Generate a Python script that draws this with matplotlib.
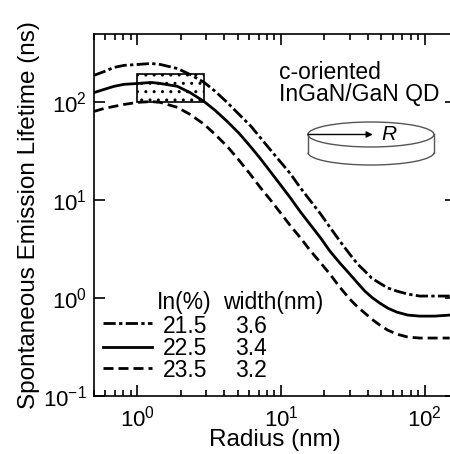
import matplotlib
matplotlib.use("Agg")
import matplotlib.pyplot as plt
from matplotlib.patches import Ellipse, Arc, Rectangle
from matplotlib.lines import Line2D

plt.rcParams['font.family'] = ['Liberation Sans', 'DejaVu Sans']
plt.rcParams['mathtext.fontset'] = 'custom'
plt.rcParams['mathtext.rm'] = 'Liberation Sans'
plt.rcParams['mathtext.it'] = 'Liberation Sans:italic'
plt.rcParams['mathtext.default'] = 'regular'
plt.rcParams['hatch.linewidth'] = 1.0

# ---- data ----
radius_nm = [0.5, 0.59, 0.69, 0.81, 1.0, 1.25, 1.45, 1.9, 2.33, 2.92, 3.48, 4.22, 5.11,
             6.19, 7.15, 8.39, 9.84, 11.55, 13.55, 15.9, 18.7, 21.9, 25.7, 30.1, 34.2,
             38.3, 42.8, 48.7, 55.3, 63.9, 76.2, 92.3, 117, 149]
life_215 = [189, 207, 228, 239, 244, 250, 244, 222, 193, 160, 130, 100, 75.4,
            56.9, 44.0, 33.1, 25.0, 18.9, 13.6, 10.0, 7.37, 5.30, 3.82, 2.81, 2.22,
            1.89, 1.60, 1.42, 1.27, 1.18, 1.10, 1.05, 1.05, 1.05]
life_225 = [126, 136, 146, 153, 156, 160, 156, 146, 126, 102, 82.9, 64.0, 48.3,
            34.8, 26.9, 19.8, 14.6, 10.7, 7.72, 5.69, 4.19, 3.02, 2.28, 1.76, 1.42,
            1.18, 1.02, 0.889, 0.791, 0.720, 0.671, 0.655, 0.655, 0.671]
life_235 = [80.9, 86.9, 91.0, 95.4, 100, 102, 100, 89.0, 75.4, 59.7, 47.1, 35.6, 25.6,
            18.0, 13.6, 10.2, 7.55, 5.56, 4.19, 3.09, 2.33, 1.76, 1.29, 0.977, 0.809,
            0.703, 0.610, 0.530, 0.471, 0.429, 0.400, 0.391, 0.391, 0.391]

in_pct = ["21.5", "22.5", "23.5"]
width_nm = ["3.6", "3.4", "3.2"]

exp_box_r = (1.0, 2.9)      # radius range of dotted box
exp_box_tau = (100, 193)    # lifetime range of dotted box

xlim = (0.5, 165)
ylim = (0.1, 500)

# ---- figure ----
fig = plt.figure(figsize=(4.5, 4.54), dpi=100)
ax = fig.add_axes([94/450, 58/454, 362/450, 362/454])
ax.set_xscale('log')
ax.set_yscale('log')
ax.set_xlim(*xlim)
ax.set_ylim(*ylim)

lw = 2.0
styles = [
    dict(linestyle=(0, (4.4, 1.2, 1.2, 1.2))),
    dict(linestyle='-'),
    dict(linestyle=(0, (3.6, 1.8))),
]
series = [life_215, life_225, life_235]
for s, st in zip(series, styles):
    ax.plot(radius_nm, s, color='black', lw=lw, dash_capstyle='butt',
            solid_joinstyle='round', **st)

rect = Rectangle((exp_box_r[0], exp_box_tau[0]), exp_box_r[1]-exp_box_r[0],
                 exp_box_tau[1]-exp_box_tau[0], facecolor='none', edgecolor='black',
                 lw=1.2, hatch='..', zorder=3)
ax.add_patch(rect)

# ticks
ax.tick_params(which='both', direction='in', top=True, right=True, width=1.2,
               labelsize=16)
ax.tick_params(which='major', length=8)
ax.tick_params(which='minor', length=4)
ax.tick_params(axis='x', pad=7)
ax.tick_params(axis='y', pad=5)
ax.yaxis.set_minor_locator(matplotlib.ticker.NullLocator())
for sp in ax.spines.values():
    sp.set_linewidth(1.2)

ax.set_xlabel('Radius (nm)', fontsize=17.5, va='top')
ax.xaxis.set_label_coords(0.5, -0.0915)
ax.set_ylabel('Spontaneous Emission Lifetime (ns)', fontsize=17.5, labelpad=2)

# annotation text
ax.text(0.511, 0.876, 'c-oriented', transform=ax.transAxes, fontsize=16.5, va='baseline')
ax.text(0.511, 0.8157, 'InGaN/GaN QD', transform=ax.transAxes, fontsize=16.5, va='baseline')

# disk illustration (axes coordinates)
gray = '#555555'
cx, cy_top, cy_bot = 0.765, 0.7224, 0.6726
ew, eh = 0.348, 0.069
ax.add_patch(Ellipse((cx, cy_top), ew, eh, transform=ax.transAxes, fill=False,
                     edgecolor=gray, lw=1.0))
ax.add_patch(Arc((cx, cy_bot), ew, eh, theta1=180, theta2=360, transform=ax.transAxes,
                 edgecolor=gray, lw=1.0))
ax.add_line(Line2D([cx-ew/2, cx-ew/2], [cy_top, cy_bot], transform=ax.transAxes, color=gray, lw=1.0))
ax.add_line(Line2D([cx+ew/2, cx+ew/2], [cy_top, cy_bot], transform=ax.transAxes, color=gray, lw=1.0))
ax.annotate('', xy=(cx+0.005, cy_top), xytext=(cx-ew/2, cy_top), xycoords='axes fraction',
            arrowprops=dict(arrowstyle='-|>', color='black', lw=1.0, mutation_scale=9,
                            shrinkA=0, shrinkB=0))
ax.text(cx+0.03, cy_top, 'R', transform=ax.transAxes, fontsize=15, style='italic',
        va='center', ha='left')

# manual legend
ax.text(0.174, 0.240, 'In(%)', transform=ax.transAxes, fontsize=16.5, va='baseline')
ax.text(0.356, 0.240, 'width(nm)', transform=ax.transAxes, fontsize=16.5, va='baseline')
row_base = [0.174, 0.1133, 0.0533]
row_line = [0.2008, 0.1362, 0.0773]
for i in range(3):
    ax.add_line(Line2D([0.025, 0.160], [row_line[i]]*2, transform=ax.transAxes,
                       color='black', lw=lw, dash_capstyle='butt', **styles[i]))
    ax.text(0.1906, row_base[i], in_pct[i], transform=ax.transAxes, fontsize=16.5, va='baseline')
    ax.text(0.3895, row_base[i], width_nm[i], transform=ax.transAxes, fontsize=16.5, va='baseline')

fig.savefig('out.png', dpi=100)
